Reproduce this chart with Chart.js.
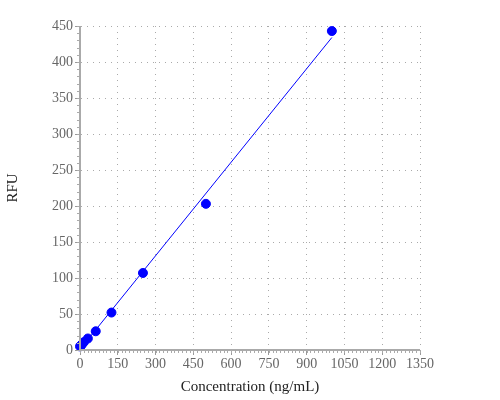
<!DOCTYPE html>
<html lang="en">
<head>
    <meta charset="UTF-8">
    <title>RFU vs Concentration</title>
    <script src="https://cdn.jsdelivr.net/npm/chart.js@4"></script>
    <style>
        body { margin: 0; background: #fff; }
    </style>
</head>
<body>
    <canvas id="chart" width="500" height="400"></canvas>
    <script>
        // standard curve values
        const concentration = [0, 3.9, 7.8, 15.6, 31.25, 62.5, 125, 250, 500, 1000];
        const rfu = [5, 6, 8, 11, 16, 26, 52, 107, 203, 443];
        // fitted line end points
        const fitX = [0, 1000];
        const fitY = [1, 434];

        const xTicks = [0, 150, 300, 450, 600, 750, 900, 1050, 1200, 1350];
        const yTicks = [0, 50, 100, 150, 200, 250, 300, 350, 400, 450];

        const serif = "'Liberation Serif', 'DejaVu Serif', serif";

        // small ticks between the labelled ones
        const minorTicks = {
            id: 'minorTicks',
            afterDraw(chart) {
                const c = chart.ctx;
                const xs = chart.scales.x, ys = chart.scales.y;
                c.save();
                c.strokeStyle = '#aaa';
                c.lineWidth = 1;
                c.beginPath();
                for (let v = 0; v <= xTicks[xTicks.length - 1]; v += 15) {
                    const px = Math.round(xs.getPixelForValue(v)) + 0.5;
                    c.moveTo(px, ys.bottom);
                    c.lineTo(px, ys.bottom + 3);
                }
                for (let v = 0; v <= yTicks[yTicks.length - 1]; v += 10) {
                    const py = Math.round(ys.getPixelForValue(v)) + 0.5;
                    c.moveTo(xs.left, py);
                    c.lineTo(xs.left - 3, py);
                }
                c.stroke();
                c.restore();
            }
        };

        // solid axis line drawn on top of the dotted grid
        const axisLines = {
            id: 'axisLines',
            afterDraw(chart) {
                const c = chart.ctx;
                const a = chart.chartArea;
                c.save();
                c.strokeStyle = '#aaa';
                c.lineWidth = 2;
                c.beginPath();
                c.moveTo(a.left, a.top);
                c.lineTo(a.left, a.bottom);
                c.lineTo(a.right, a.bottom);
                c.stroke();
                c.restore();
            }
        };

        const gridOpts = {
            color: '#aaa',
            tickColor: '#999',
            tickLength: 5,
            tickBorderDash: []
        };

        const ctx = document.getElementById('chart');

        new Chart(ctx, {
            type: 'scatter',
            data: {
                datasets: [{
                    label: 'fit',
                    data: fitX.map((x, i) => ({ x: x, y: fitY[i] })),
                    showLine: true,
                    borderColor: '#0000ff',
                    borderWidth: 1,
                    pointRadius: 0,
                    clip: false
                }, {
                    label: 'RFU',
                    data: concentration.map((x, i) => ({ x: x, y: rfu[i] })),
                    backgroundColor: '#0000ff',
                    borderColor: '#0000ff',
                    pointRadius: 4.5,
                    clip: false
                }]
            },
            options: {
                responsive: false,
                animation: false,
                layout: { padding: { top: 26, right: 80, left: 0, bottom: 0 } },
                plugins: {
                    legend: { display: false },
                    tooltip: { enabled: false }
                },
                scales: {
                    x: {
                        type: 'linear',
                        min: 0,
                        max: 1350,
                        afterBuildTicks: s => { s.ticks = xTicks.map(v => ({ value: v })); },
                        afterFit: s => { s.height = 50; },
                        ticks: {
                            color: '#666',
                            font: { family: serif, size: 14 },
                            padding: 1,
                            maxRotation: 0,
                            autoSkip: false,
                            callback: v => String(v)
                        },
                        grid: gridOpts,
                        border: { color: '#aaa', width: 1, dash: [1, 5] },
                        title: {
                            display: true,
                            text: 'Concentration (ng/mL)',
                            color: '#222',
                            font: { family: serif, size: 15 },
                            padding: { top: 2, bottom: 4 }
                        }
                    },
                    y: {
                        type: 'linear',
                        min: 0,
                        max: 450,
                        afterBuildTicks: s => { s.ticks = yTicks.map(v => ({ value: v })); },
                        afterFit: s => { s.width = 80; },
                        ticks: {
                            color: '#666',
                            font: { family: serif, size: 14 },
                            padding: 2,
                            autoSkip: false,
                            callback: v => String(v)
                        },
                        grid: gridOpts,
                        border: { color: '#aaa', width: 1, dash: [1, 5] },
                        title: {
                            display: true,
                            text: 'RFU',
                            color: '#222',
                            font: { family: serif, size: 15 },
                            padding: { top: 4, bottom: 0 }
                        }
                    }
                }
            },
            plugins: [axisLines, minorTicks]
        });
    </script>
</body>
</html>
